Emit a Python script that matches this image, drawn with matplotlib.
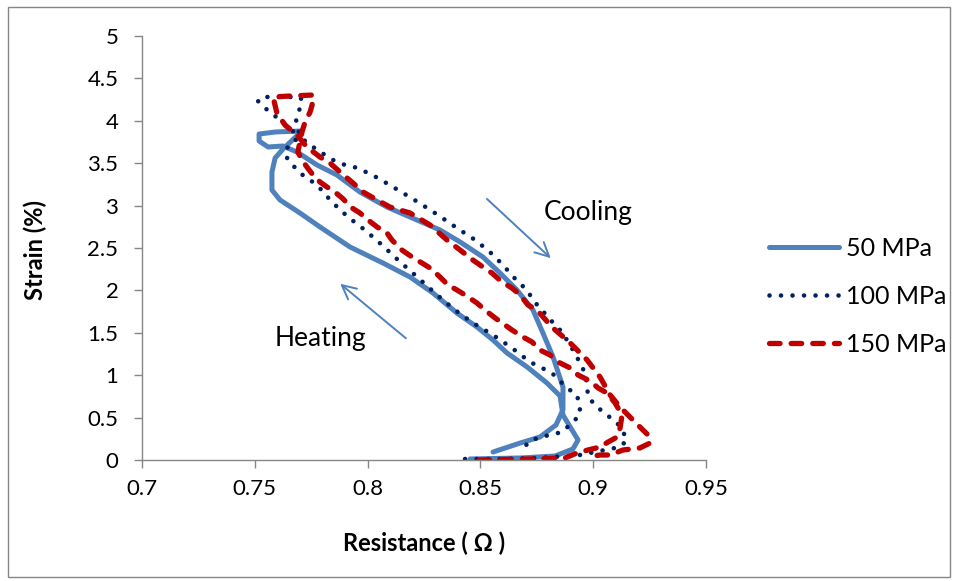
import matplotlib
matplotlib.use("Agg")
import matplotlib.pyplot as plt
from matplotlib.patches import Rectangle

plt.rcParams["font.family"] = ["Lato", "DejaVu Sans"]

# 50 MPa loop (resistance in ohm, strain in %)
r50 = [0.8454, 0.8676, 0.8831, 0.8910, 0.8933, 0.8906, 0.8866, 0.8853, 0.8795, 0.8707,
       0.8618, 0.8556, 0.8485, 0.8396, 0.8290, 0.8188, 0.8068, 0.7922, 0.7789, 0.7700,
       0.7612, 0.7576, 0.7576, 0.7590, 0.7625, 0.7709, 0.7590, 0.7519, 0.7519, 0.7559,
       0.7625, 0.7687, 0.7776, 0.7864, 0.7966, 0.8086, 0.8219, 0.8321, 0.8410, 0.8511,
       0.8587, 0.8662, 0.8733, 0.8777, 0.8822, 0.8866, 0.8866, 0.8835, 0.8764, 0.8676,
       0.8556]
s50 = [0.012, 0.024, 0.047, 0.130, 0.236, 0.354, 0.531, 0.755, 0.908, 1.097,
       1.262, 1.415, 1.568, 1.733, 1.969, 2.158, 2.323, 2.512, 2.748, 2.913,
       3.066, 3.184, 3.396, 3.561, 3.667, 3.880, 3.868, 3.844, 3.762, 3.691,
       3.703, 3.632, 3.479, 3.361, 3.160, 2.983, 2.830, 2.712, 2.571, 2.394,
       2.205, 2.005, 1.769, 1.498, 1.215, 0.861, 0.590, 0.413, 0.271, 0.200,
       0.094]

# 100 MPa loop
r100 = [0.8432, 0.8587, 0.8764, 0.8941, 0.9052, 0.9119, 0.9150, 0.9128, 0.9106, 0.9061,
        0.9017, 0.8977, 0.8973, 0.8964, 0.8941, 0.8919, 0.8888, 0.8866, 0.8831, 0.8800,
        0.8764, 0.8733, 0.8707, 0.8667, 0.8631, 0.8600, 0.8542, 0.8477, 0.8396, 0.8312,
        0.8223, 0.8135, 0.8046, 0.7957, 0.7900, 0.7847, 0.7776, 0.7700, 0.7683, 0.7700,
        0.7709, 0.7700, 0.7612, 0.7532, 0.7514, 0.7545, 0.7612, 0.7665, 0.7692, 0.7647,
        0.7634, 0.7656, 0.7700, 0.7776, 0.7842, 0.7913, 0.7988, 0.8064, 0.8135, 0.8210,
        0.8308, 0.8387, 0.8467, 0.8556, 0.8640, 0.8720, 0.8817, 0.8884, 0.8928, 0.8941,
        0.8941, 0.8910, 0.8862, 0.8809, 0.8764, 0.8711, 0.8698]
s100 = [0.012, 0.012, 0.024, 0.059, 0.118, 0.153, 0.236, 0.354, 0.436, 0.531,
        0.625, 0.743, 0.884, 1.026, 1.144, 1.262, 1.392, 1.498, 1.592, 1.686,
        1.792, 1.887, 2.005, 2.099, 2.205, 2.300, 2.453, 2.594, 2.736, 2.889,
        3.042, 3.184, 3.325, 3.443, 3.479, 3.538, 3.656, 3.809, 4.009, 4.151,
        4.245, 4.281, 4.281, 4.281, 4.233, 4.151, 4.009, 3.892, 3.797, 3.703,
        3.597, 3.514, 3.384, 3.243, 3.042, 2.866, 2.712, 2.535, 2.358, 2.182,
        1.946, 1.769, 1.616, 1.474, 1.321, 1.156, 1.026, 0.849, 0.767, 0.625,
        0.531, 0.448, 0.330, 0.295, 0.271, 0.212, 0.153]

# 150 MPa loop
r150 = [0.8494, 0.8720, 0.8875, 0.8928, 0.8977, 0.9030, 0.9066, 0.9106, 0.9119, 0.9128,
        0.9097, 0.9061, 0.9022, 0.8986, 0.8933, 0.8898, 0.8844, 0.8809, 0.8764, 0.8729,
        0.8689, 0.8640, 0.8609, 0.8565, 0.8520, 0.8485, 0.8432, 0.8396, 0.8356, 0.8321,
        0.8277, 0.8241, 0.8197, 0.8152, 0.8108, 0.8086, 0.8042, 0.8002, 0.7966, 0.7931,
        0.7887, 0.7855, 0.7820, 0.7789, 0.7758, 0.7731, 0.7709, 0.7691, 0.7700, 0.7709,
        0.7723, 0.7745, 0.7754, 0.7758, 0.7656, 0.7581, 0.7598, 0.7634, 0.7687, 0.7731,
        0.7789, 0.7833, 0.7878, 0.7935, 0.7980, 0.8042, 0.8099, 0.8188, 0.8277, 0.8352,
        0.8410, 0.8467, 0.8511, 0.8551, 0.8596, 0.8640, 0.8676, 0.8711, 0.8751, 0.8817,
        0.8898, 0.8973, 0.9030, 0.9075, 0.9119, 0.9163, 0.9207, 0.9243, 0.9252, 0.9207,
        0.9132, 0.9075, 0.9030, 0.8977]
s150 = [0.000, 0.012, 0.024, 0.083, 0.118, 0.153, 0.212, 0.271, 0.377, 0.531,
        0.672, 0.790, 0.849, 0.932, 1.002, 1.085, 1.156, 1.238, 1.297, 1.392,
        1.450, 1.533, 1.592, 1.675, 1.769, 1.851, 1.946, 2.005, 2.064, 2.158,
        2.264, 2.323, 2.394, 2.476, 2.594, 2.677, 2.748, 2.830, 2.913, 2.972,
        3.090, 3.160, 3.219, 3.278, 3.361, 3.455, 3.538, 3.632, 3.750, 3.868,
        3.986, 4.104, 4.186, 4.304, 4.292, 4.281, 4.092, 3.950, 3.833, 3.691,
        3.573, 3.502, 3.396, 3.267, 3.160, 3.066, 2.983, 2.913, 2.771, 2.594,
        2.476, 2.358, 2.276, 2.205, 2.099, 2.028, 1.946, 1.828, 1.769, 1.568,
        1.380, 1.179, 0.979, 0.767, 0.625, 0.507, 0.389, 0.295, 0.200, 0.142,
        0.118, 0.059, 0.059, 0.035]

x_ticks = [0.7, 0.75, 0.8, 0.85, 0.9, 0.95]
y_ticks = [0, 0.5, 1, 1.5, 2, 2.5, 3, 3.5, 4, 4.5, 5]

fig = plt.figure(figsize=(9.58, 5.81), dpi=100)
ax = fig.add_axes([142 / 958, 1 - 460 / 581, 564 / 958, 424 / 581])

ax.plot(r50, s50, color="#4F81BD", lw=3.6, solid_capstyle="round",
        solid_joinstyle="round", label="50 MPa")
ax.plot(r100, s100, color="#002060", lw=3.3, linestyle=(0, (0.01, 2.5)),
        dash_capstyle="round", label="100 MPa")
ax.plot(r150, s150, color="#C00000", lw=3.8, linestyle=(0, (2.0, 2.1)),
        dash_capstyle="round", label="150 MPa")

ax.set_xlim(0.7, 0.95)
ax.set_ylim(0, 5)
ax.set_xticks(x_ticks)
ax.set_xticklabels([f"{v:g}" for v in x_ticks])
ax.set_yticks(y_ticks)
ax.set_yticklabels([f"{v:g}" for v in y_ticks])

for side in ["top", "right"]:
    ax.spines[side].set_visible(False)
for side in ["left", "bottom"]:
    ax.spines[side].set_color("#868686")
    ax.spines[side].set_linewidth(1.0)
ax.tick_params(axis="both", direction="out", length=6, width=1.0, color="#868686",
               labelsize=16, labelcolor="black")
ax.tick_params(axis="x", pad=8)
ax.tick_params(axis="y", pad=11)

fig.text(35 / 958, 1 - 250 / 581, "Strain (%)", rotation=90, ha="center", va="center",
         fontsize=17, fontweight="bold")
fig.text(424 / 958, 1 - 543 / 581, "Resistance ( Ω )", ha="center", va="center",
         fontsize=17, fontweight="bold")

# arrows and labels
arrow_kw = dict(arrowstyle="->,head_length=1.0,head_width=0.5", color="#4F81BD", lw=1.4)
ax.annotate("", xy=(0.8821, 2.358), xytext=(0.8520, 3.101), arrowprops=arrow_kw)
ax.annotate("", xy=(0.7869, 2.099), xytext=(0.8179, 1.415), arrowprops=arrow_kw)
ax.text(0.8977, 2.913, "Cooling", ha="center", va="center", fontsize=19)
ax.text(0.7789, 1.427, "Heating", ha="center", va="center", fontsize=19)

fig.legend(loc="center left", bbox_to_anchor=(769 / 958, 1 - 296 / 581), frameon=False,
           fontsize=18, handlelength=2.8, handletextpad=0.3, labelspacing=1.0,
           borderpad=0, borderaxespad=0)

fig.patches.append(Rectangle((8 / 958, 1 - 577 / 581), 942 / 958, 570 / 581,
                             transform=fig.transFigure, fill=False,
                             edgecolor="#868686", lw=1.0))

fig.savefig("out.png", dpi=100)
